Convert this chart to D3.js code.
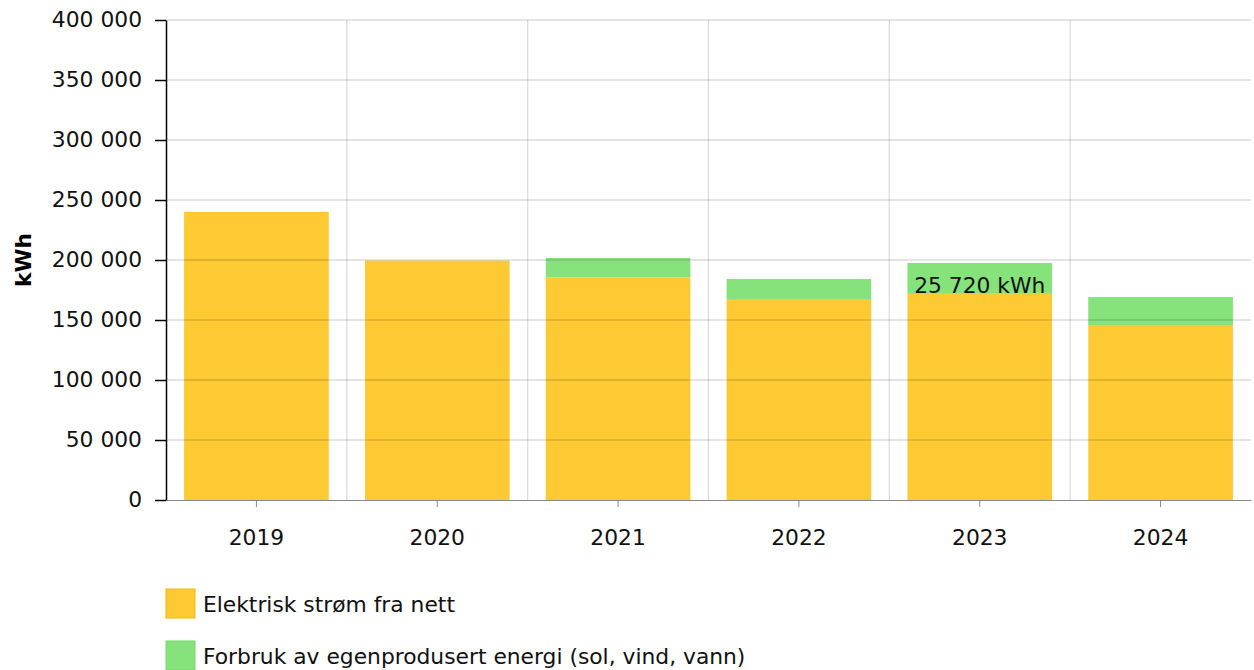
<!DOCTYPE html>
<html>
<head>
<meta charset="utf-8">
<script src="https://cdn.jsdelivr.net/npm/d3@7"></script>
<style>
  body { margin: 0; background: #fff; }
  text { font-family: "DejaVu Sans", Verdana, sans-serif; }
</style>
</head>
<body>
<svg width="1254" height="670"></svg>
<script>
// data
const years = ["2019", "2020", "2021", "2022", "2023", "2024"];
const gridPower = [240000, 199500, 185500, 167500, 171800, 145800];
const selfProduced = [0, 0, 16200, 16700, 25720, 23400];
const yTicks = [0, 50000, 100000, 150000, 200000, 250000, 300000, 350000, 400000];
const seriesNames = ["Elektrisk strøm fra nett", "Forbruk av egenprodusert energi (sol, vind, vann)"];
const seriesColors = ["#fdca33", "#86e27a"];
const legendBorder = ["#f5b800", "#74d868"];

const svg = d3.select("svg");
const fs = "21.8px";
const fmt = v => d3.format(",")(v).replace(/,/g, " ");

const x = d3.scaleBand().domain(years).range([166, 1251]).paddingInner(0.2).paddingOuter(0.1);
const y = d3.scaleLinear().domain([0, 400000]).range([500, 20]);

const rows = years.map((yr, i) => ({year: yr, grid: gridPower[i], self: selfProduced[i]}));
const stack = d3.stack().keys(["grid", "self"])(rows);

// vertical grid lines at band boundaries
const step = x.step();
svg.append("g").selectAll("line")
  .data(years.slice(1))
  .join("line")
    .attr("x1", d => x(d) - step * x.paddingInner() / 2)
    .attr("x2", d => x(d) - step * x.paddingInner() / 2)
    .attr("y1", y(400000)).attr("y2", y(0))
    .attr("stroke", "#000").attr("stroke-opacity", 0.14).attr("stroke-width", 1.3);

// bars
svg.append("g").selectAll("g")
  .data(stack)
  .join("g")
    .attr("fill", (d, i) => seriesColors[i])
  .selectAll("rect")
  .data(d => d)
  .join("rect")
    .attr("x", d => x(d.data.year))
    .attr("width", x.bandwidth())
    .attr("y", d => y(d[1]))
    .attr("height", d => y(d[0]) - y(d[1]));

// horizontal grid lines (drawn over bars, faint)
svg.append("g").selectAll("line")
  .data(yTicks.slice(1))
  .join("line")
    .attr("x1", 166).attr("x2", 1251)
    .attr("y1", d => y(d)).attr("y2", d => y(d))
    .attr("stroke", "#000").attr("stroke-opacity", 0.14).attr("stroke-width", 1.3);

// x axis
const xAxis = svg.append("g")
    .attr("transform", `translate(0,${y(0)})`)
    .call(d3.axisBottom(x).tickSize(7).tickSizeOuter(0).tickPadding(23));
xAxis.select(".domain").attr("stroke", "#888");
xAxis.selectAll(".tick line").attr("stroke", "#888");
xAxis.selectAll("text").style("font-size", fs).attr("fill", "#111");

// y axis
const yAxis = svg.append("g")
    .attr("transform", "translate(166,0)")
    .call(d3.axisLeft(y).tickValues(yTicks).tickFormat(fmt).tickSize(11).tickSizeOuter(0).tickPadding(13));
yAxis.select(".domain").attr("stroke", "#000").attr("stroke-width", 1.5);
yAxis.selectAll(".tick line").attr("stroke", "#000").attr("stroke-width", 1.5);
yAxis.selectAll("text").style("font-size", fs).attr("fill", "#111");

svg.append("text")
    .attr("transform", "translate(31,260) rotate(-90)")
    .attr("text-anchor", "middle")
    .style("font-size", fs)
    .style("font-weight", "bold")
    .text("kWh");

// value label on 2023
const hl = rows[4];
svg.append("text")
    .attr("x", x(hl.year) + x.bandwidth() / 2)
    .attr("y", y(hl.grid + hl.self) + 30)
    .attr("text-anchor", "middle")
    .style("font-size", fs)
    .attr("fill", "#111")
    .text(fmt(hl.self) + " kWh");

// legend
const legend = svg.append("g").selectAll("g")
  .data(seriesNames)
  .join("g")
    .attr("transform", (d, i) => `translate(166,${589 + i * 52})`);
legend.append("rect")
    .attr("width", 29).attr("height", 29)
    .attr("fill", (d, i) => seriesColors[i])
    .attr("stroke", (d, i) => legendBorder[i]);
legend.append("text")
    .attr("x", 37).attr("y", 15).attr("dy", "0.35em")
    .style("font-size", fs)
    .attr("fill", "#111")
    .text(d => d);
</script>
</body>
</html>
